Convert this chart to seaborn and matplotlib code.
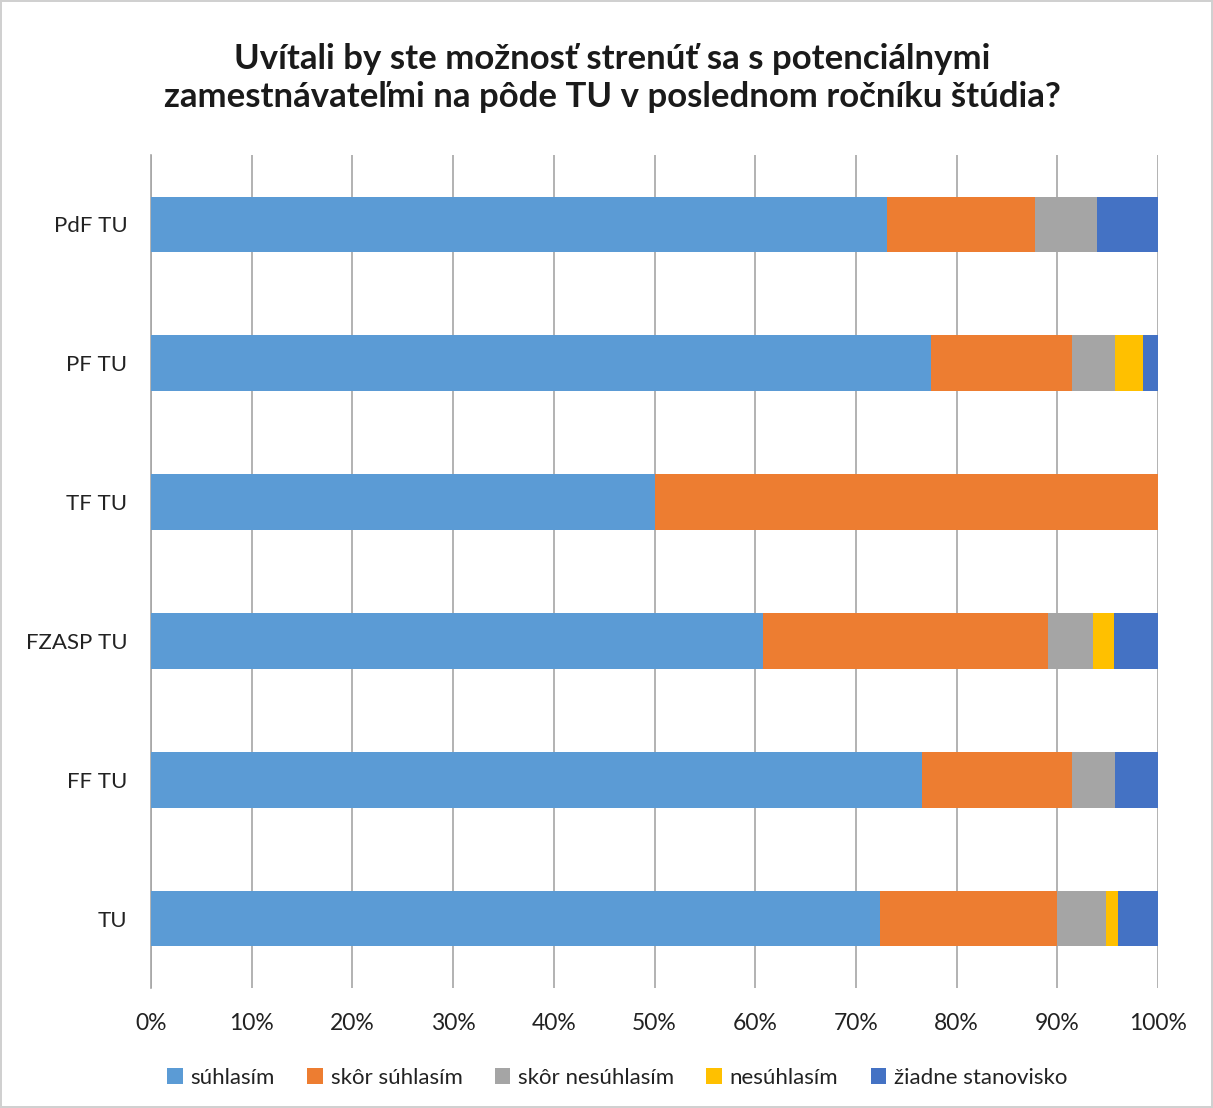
import matplotlib
matplotlib.use("Agg")
import matplotlib.pyplot as plt
import seaborn as sns
import pandas as pd
import numpy as np
from matplotlib.patches import Patch
from matplotlib.ticker import PercentFormatter

categories = ["PdF TU", "PF TU", "TF TU", "FZASP TU", "FF TU", "TU"]
series_names = ["súhlasím", "skôr súhlasím", "skôr nesúhlasím", "nesúhlasím", "žiadne stanovisko"]
suhlasim = [73.1, 77.5, 50.0, 60.8, 76.6, 72.4]
skor_suhlasim = [14.7, 14.0, 50.0, 28.3, 14.9, 17.6]
skor_nesuhlasim = [6.1, 4.2, 0.0, 4.4, 4.2, 4.8]
nesuhlasim = [0.0, 2.8, 0.0, 2.1, 0.0, 1.2]
ziadne = [6.1, 1.5, 0.0, 4.4, 4.3, 4.0]
colors = ["#5B9BD5", "#ED7D31", "#A5A5A5", "#FFC000", "#4472C4"]
title = "Uvítali by ste možnosť strenúť sa s potenciálnymi\nzamestnávateľmi na pôde TU v poslednom ročníku štúdia?"

sns.set_theme(style="white")
plt.rcParams["font.family"] = ["Lato", "DejaVu Sans"]

data = np.array([suhlasim, skor_suhlasim, skor_nesuhlasim, nesuhlasim, ziadne])
totals = data.sum(axis=0)
pct = data / totals * 100
cum = np.cumsum(pct, axis=0)

fig = plt.figure(figsize=(12.13, 11.08), dpi=100)
fig.patch.set_facecolor("white")
fig.patch.set_edgecolor("#D0D0D0")
fig.patch.set_linewidth(1.5)
W, H = 1213, 1108
ax = fig.add_axes([151 / W, 1 - 988 / H, (1158 - 151) / W, (988 - 155) / H])

for i in range(len(series_names) - 1, -1, -1):
    df = pd.DataFrame({"cat": categories, "val": cum[i]})
    sns.barplot(data=df, x="val", y="cat", orient="h", color=colors[i],
                width=0.4, saturation=1, ax=ax, zorder=3, linewidth=0)

ax.set_xlim(0, 100)
ax.set_ylim(len(categories) - 0.5, -0.5)
ax.set_xticks(np.arange(0, 101, 10))
ax.xaxis.set_major_formatter(PercentFormatter(decimals=0))
ax.grid(axis="x", color="#A6A6A6", linewidth=1.2, zorder=0)
ax.set_axisbelow(True)
ax.set_xlabel("")
ax.set_ylabel("")
for s in ["top", "right", "bottom"]:
    ax.spines[s].set_visible(False)
ax.spines["left"].set_color("#A6A6A6")
ax.spines["left"].set_linewidth(1.2)
ax.tick_params(axis="x", length=7, color="#A6A6A6", width=1.2, labelsize=16.5, pad=11, labelcolor="#222222")
ax.tick_params(axis="y", which="major", length=0, labelsize=16, pad=17, labelcolor="#222222")
ax.set_yticks(np.arange(-0.5, len(categories)), minor=True)
ax.tick_params(axis="y", which="minor", length=8, color="#A6A6A6", width=1.2)

fig.text(0.505, 1 - 78 / H, title, ha="center", va="center", fontsize=25, fontweight="bold",
         color="#1a1a1a", linespacing=1.25)

handles = [Patch(facecolor=c, edgecolor="none") for c in colors]
fig.legend(handles, series_names, loc="center", bbox_to_anchor=(0.509, 1 - 1078 / H), ncol=5,
           frameon=False, fontsize=16, handlelength=0.7, handleheight=0.7, handletextpad=0.35,
           columnspacing=1.45, labelcolor="#222222")

fig.savefig("out.png", dpi=100, facecolor=fig.get_facecolor(), edgecolor=fig.get_edgecolor())
